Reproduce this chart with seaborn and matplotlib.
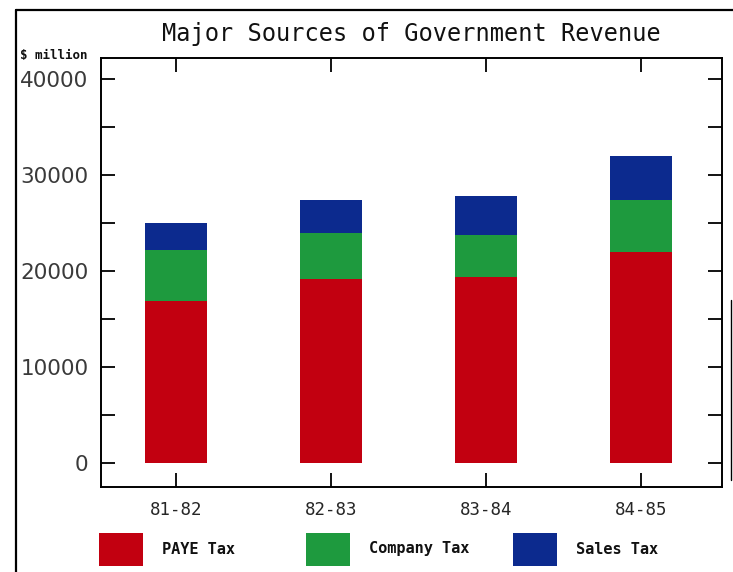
import matplotlib
matplotlib.use("Agg")
import matplotlib.pyplot as plt
import seaborn as sns
import pandas as pd
import numpy as np
from matplotlib.patches import Rectangle
from matplotlib.lines import Line2D

years = ["81-82", "82-83", "83-84", "84-85"]
paye = [16900, 19200, 19400, 22000]
company = [5300, 4800, 4350, 5400]
sales = [2800, 3400, 4050, 4600]
series_names = ["PAYE Tax", "Company Tax", "Sales Tax"]
colors = ["#C20010", "#1E9A3E", "#0C2A8E"]
yticks_major = [0, 10000, 20000, 30000, 40000]

sns.set_style("white")
plt.rcParams["font.family"] = ["DejaVu Sans"]

W, H = 733, 572
fig = plt.figure(figsize=(W / 100, H / 100), dpi=100)
ax = fig.add_axes([101 / W, 1 - 487 / H, (722 - 101) / W, (487 - 58) / H])

df = pd.DataFrame({"year": years, "PAYE Tax": paye, "Company Tax": company, "Sales Tax": sales})
cum = df[series_names].cumsum(axis=1)

# draw stacked bars from the top-most cumulative total down
for name, col in reversed(list(zip(series_names, colors))):
    sns.barplot(x=df["year"], y=cum[name], color=col, saturation=1, width=0.40,
                ax=ax, linewidth=0, order=years)

ax.set_xlim(-0.484, 3.52)
ax.set_ylim(-2500, 42200)
ax.set_xlabel("")
ax.set_ylabel("")

# y ticks every 5000, labels at 10000s
ax.set_yticks(np.arange(0, 40001, 5000))
ax.set_yticklabels([f"{int(v)}" if v in yticks_major else "" for v in np.arange(0, 40001, 5000)])
ax.tick_params(axis="y", which="both", direction="in", length=10, width=1.3, color="black",
               left=True, right=True, labelsize=15.5, labelcolor="#3a3a3a", pad=9)
ax.tick_params(axis="x", which="both", direction="in", length=10, width=1.3, color="black",
               bottom=True, top=True, labelsize=12.5, pad=10)
for lbl in ax.get_xticklabels():
    lbl.set_fontfamily("DejaVu Sans Mono")

for sp in ax.spines.values():
    sp.set_visible(True)
    sp.set_color("black")
    sp.set_linewidth(1.4)

# title
fig.text(411 / W, 1 - 34 / H, "Major Sources of Government Revenue", ha="center", va="center",
         fontsize=17, family="DejaVu Sans Mono", color="#111111")
# unit label
fig.text(20 / W, 1 - 55 / H, "$ million", ha="left", va="center", fontsize=9,
         family="DejaVu Sans Mono", fontweight="bold", color="#111111")

# legend (manual layout)
box_x = [99, 306, 513]
for bx, name, col in zip(box_x, series_names, colors):
    fig.patches.append(Rectangle((bx / W, 1 - 566 / H), 44 / W, 33 / H, transform=fig.transFigure,
                                 facecolor=col, edgecolor="none"))
    fig.text((bx + 63) / W, 1 - 549 / H, name, ha="left", va="center", fontsize=11,
             family="DejaVu Sans Mono", fontweight="bold", color="#111111")

# outer border
fig.lines.append(Line2D([16 / W, 16 / W], [0, 1 - 10 / H], transform=fig.transFigure, color="black", lw=1.6))
fig.lines.append(Line2D([16 / W, 1], [1 - 10 / H, 1 - 10 / H], transform=fig.transFigure, color="black", lw=1.6))
fig.lines.append(Line2D([731 / W, 731 / W], [1 - 480 / H, 1 - 300 / H], transform=fig.transFigure, color="black", lw=1.0))

fig.savefig("out.png", dpi=100)
